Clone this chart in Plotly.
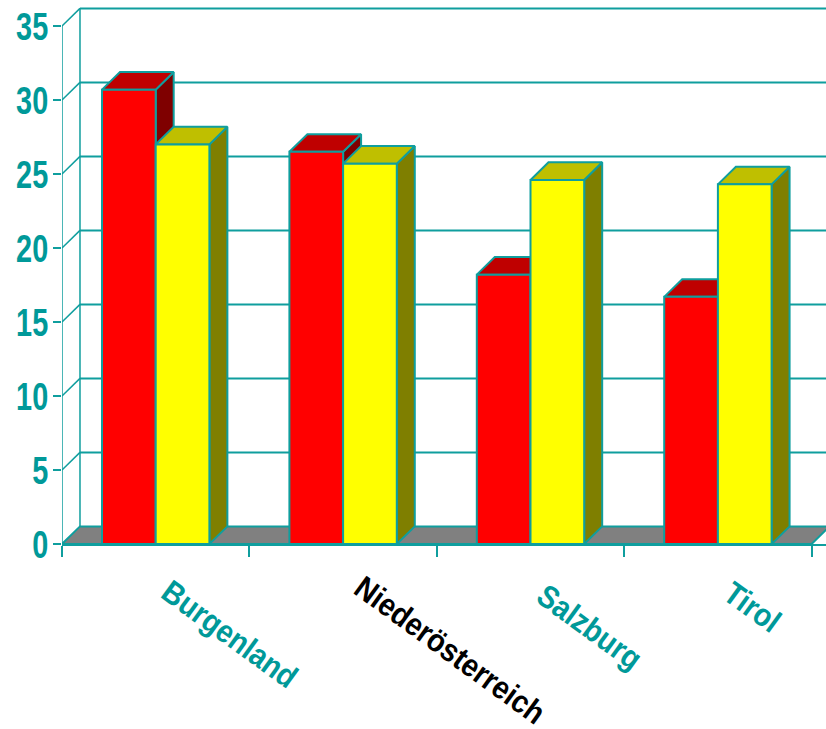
import plotly.graph_objects as go

# Values per federal state
categories = ["Burgenland", "Niederösterreich", "Salzburg", "Tirol"]
series_red = [30.7, 26.5, 18.2, 16.7]
series_yellow = [27.0, 25.7, 24.6, 24.3]
y_ticks = [0, 5, 10, 15, 20, 25, 30, 35]

TEAL = "#0F9E9E"
LABEL_TEAL = "#009999"
FONT = "Liberation Sans, Arial"

# Chart geometry in axis units
BAR_W = 0.2865
DEPTH_X = 0.096
DEPTH_Y = 1.19
X_MAX = 764 / 187.4
Y_MAX = 544 / 14.8

# Category label placement: rotation centre along x, pixel drop below the axis
label_x = [0.894, 2.07, 2.815, 3.684]
label_drop = [90, 106, 83, 63]
label_color = [LABEL_TEAL, "#000000", LABEL_TEAL, LABEL_TEAL]

fig = go.Figure()


def polygon(xs, ys, fill):
    fig.add_trace(go.Scatter(
        x=xs + xs[:1], y=ys + ys[:1], mode="lines", fill="toself", fillcolor=fill,
        line=dict(color=TEAL, width=2), hoverinfo="skip", showlegend=False,
    ))


def line(xs, ys, width=2):
    fig.add_trace(go.Scatter(
        x=xs, y=ys, mode="lines", line=dict(color=TEAL, width=width),
        hoverinfo="skip", showlegend=False,
    ))


# Back wall with its grid, plus the connectors to the front axis
for v in y_ticks[1:]:
    line([DEPTH_X, X_MAX + 1], [v + DEPTH_Y, v + DEPTH_Y])
    line([0, DEPTH_X], [v, v + DEPTH_Y], 1.5)
line([DEPTH_X, DEPTH_X], [DEPTH_Y, y_ticks[-1] + DEPTH_Y], 1.5)
line([0, 0], [0, y_ticks[-1]], 1.5)

# Floor
n = len(categories)
polygon([0, DEPTH_X, n + DEPTH_X, n], [0, DEPTH_Y, DEPTH_Y, 0], "#808080")


def box_faces(left, value, top_color, side_color):
    right = left + BAR_W
    polygon([right, right + DEPTH_X, right + DEPTH_X, right],
            [0, DEPTH_Y, value + DEPTH_Y, value], side_color)
    polygon([left, left + DEPTH_X, right + DEPTH_X, right],
            [value, value + DEPTH_Y, value + DEPTH_Y, value], top_color)


for i in range(n):
    centre = i + 0.5
    box_faces(centre - BAR_W, series_red[i], "#BF0000", "#7F0000")
    box_faces(centre, series_yellow[i], "#BFBF00", "#7F7F00")

# Front faces sit on an overlaid y axis so they stay above the depth faces
centres = [i + 0.5 for i in range(n)]
fig.add_trace(go.Bar(x=centres, y=series_red, width=BAR_W, offset=-BAR_W, yaxis="y2",
                     marker=dict(color="#FF0000", line=dict(color=TEAL, width=2)),
                     hoverinfo="skip", showlegend=False))
fig.add_trace(go.Bar(x=centres, y=series_yellow, width=BAR_W, offset=0, yaxis="y2",
                     marker=dict(color="#FFFF00", line=dict(color=TEAL, width=2)),
                     hoverinfo="skip", showlegend=False))

annotations = [
    dict(x=label_x[i], y=0, xref="x", yref="y", yshift=-label_drop[i], text=categories[i],
         showarrow=False, textangle=36, xanchor="center", yanchor="middle",
         font=dict(family=FONT, size=32, color=label_color[i], weight="bold"))
    for i in range(n)
]

fig.update_layout(
    width=826, height=729, autosize=False,
    margin=dict(l=62, r=0, t=0, b=185),
    paper_bgcolor="#FFFFFF", plot_bgcolor="#FFFFFF",
    barmode="overlay", showlegend=False, annotations=annotations,
    xaxis=dict(range=[0, X_MAX], tickmode="array", tickvals=list(range(n + 1)), automargin=False,
               showticklabels=False, ticks="outside", ticklen=11, tickwidth=1.5, tickcolor=TEAL,
               showline=True, linecolor=TEAL, linewidth=2, showgrid=False, zeroline=False),
    yaxis=dict(range=[0, Y_MAX], tickmode="array", tickvals=y_ticks, automargin=False,
               ticks="outside", ticklen=8, tickwidth=1.5, tickcolor=TEAL,
               ticklabelstandoff=4, showline=False, showgrid=False, zeroline=False,
               tickfont=dict(family=FONT, size=39, color=LABEL_TEAL, weight="bold")),
    yaxis2=dict(range=[0, Y_MAX], overlaying="y", visible=False, matches="y"),
)

# Condense the text horizontally about each label's own anchor point
condense = """
function squeeze(el, k, dx) {
  var x = parseFloat(el.getAttribute('x')) || 0, y = parseFloat(el.getAttribute('y')) || 0;
  var t = el.getAttribute('transform') || '';
  el.setAttribute('transform', t + ' translate(' + (x + dx) + ',' + y + ') scale(' + k + ',1) translate(' + (-x) + ',' + (-y) + ')');
}
document.querySelectorAll('.ytick text').forEach(function (el) { squeeze(el, 0.74, 7); });
document.querySelectorAll('.annotation-text').forEach(function (el) { squeeze(el, 0.89, 0); });
"""

fig.write_html("out.html", post_script=condense)
